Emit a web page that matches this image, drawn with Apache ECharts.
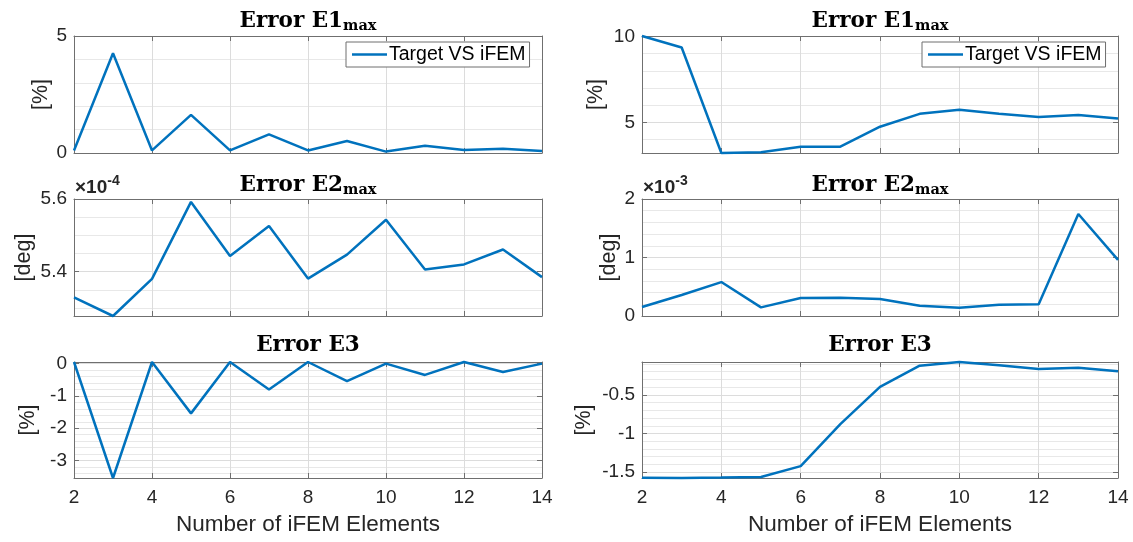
<!DOCTYPE html>
<html><head><meta charset="utf-8">
<script src="https://cdn.jsdelivr.net/npm/echarts@6/dist/echarts.min.js"></script>
<style>html,body{margin:0;padding:0;background:#fff}#c{width:1133px;height:542px}</style>
</head><body><div id="c"></div>
<script>
// ---- data ----
const elements = [2, 3, 4, 5, 6, 7, 8, 9, 10, 11, 12, 13, 14];
const e1Left  = [0.11, 4.26, 0.11, 1.63, 0.11, 0.80, 0.11, 0.51, 0.06, 0.31, 0.13, 0.18, 0.09];
const e1Right = [10.03, 9.36, 3.22, 3.26, 3.59, 3.59, 4.75, 5.50, 5.74, 5.50, 5.31, 5.43, 5.23];
const e2Left  = [5.329, 5.278, 5.380, 5.592, 5.443, 5.526, 5.381, 5.447, 5.543, 5.406, 5.420, 5.461, 5.385]; // x 1e-4
const e2Right = [0.153, 0.358, 0.580, 0.148, 0.307, 0.312, 0.290, 0.176, 0.142, 0.193, 0.199, 1.744, 0.960]; // x 1e-3
const e3Left  = [0.05, -3.54, 0.05, -1.54, 0.05, -0.80, 0.05, -0.54, 0.00, -0.35, 0.05, -0.26, 0.00];
const e3Right = [-1.572, -1.575, -1.570, -1.563, -1.422, -0.879, -0.396, -0.122, -0.075, -0.118, -0.165, -0.148, -0.195];

const seriesName = 'Target VS iFEM';
const titleMain = ['Error E1', 'Error E1', 'Error E2', 'Error E2', 'Error E3', 'Error E3'];
const titleSub  = ['max', 'max', 'max', 'max', '', ''];
const yNames    = ['[%]', '[%]', '[deg]', '[deg]', '[%]', '[%]'];
const xName     = 'Number of iFEM Elements';
const exponents = [null, null, '-4', '-3', null, null];
const xTicks    = { min: 2, max: 14, step: 2 };
const yMin      = [0, 3.22, 5.278, 0, -3.54, -1.575];
const yMax      = [5, 10.03, 5.6, 2, 0.05, -0.075];
const yMajor    = [5, 5, 0.2, 1, 1, 0.5];
const yMinorDiv = [5, 5, 4, 5, 5, 5];
const ySplitNum = [1, 1, 2, 2, 4, 3];

const panelData = [e1Left, e1Right, e2Left, e2Right, e3Left, e3Right];

// ---- layout / style ----
const layout = [
  { left: 74,  top: 36,  width: 468, height: 117 },
  { left: 642, top: 36,  width: 476, height: 117 },
  { left: 74,  top: 199, width: 468, height: 117 },
  { left: 642, top: 199, width: 476, height: 117 },
  { left: 74,  top: 362, width: 468, height: 116 },
  { left: 642, top: 362, width: 476, height: 116 }
];
const yNameGap = [22, 35, 39, 21, 35, 47];
const titleOffset = [27, 27, 26, 26, 29, 29];
const AX = '#6f6f6f', GRID = '#dcdcdc', MINOR = '#e8e8e8', TXT = '#262626', LINE = '#0072BD';
const SANS = 'Liberation Sans, Arial, sans-serif';
const SERIF = 'DejaVu Serif, serif';
const TICKFS = 19;

const isMult = (v, m) => Math.abs(v / m - Math.round(v / m)) < 1e-6;
const fmt = v => String(parseFloat(v.toFixed(4)));

const grids = [], xAxes = [], yAxes = [], series = [], titles = [];
layout.forEach((g, i) => {
  grids.push({ left: g.left, top: g.top, width: g.width, height: g.height, containLabel: false });
  const bottomRow = i >= 4;
  const axisLine = { show: true, onZero: false, lineStyle: { color: AX, width: 1 } };
  const tick = { show: true, inside: true, length: 5, lineStyle: { color: AX } };
  const xBase = { type: 'value', gridIndex: i, min: xTicks.min, max: xTicks.max, interval: xTicks.step,
                  axisLine, axisTick: tick };
  xAxes.push(Object.assign({}, xBase, {
    position: 'bottom',
    axisLabel: { show: bottomRow, color: TXT, fontFamily: SANS, fontSize: TICKFS, margin: 10 },
    splitLine: { show: true, lineStyle: { color: GRID, width: 1 } },
    name: bottomRow ? xName : '', nameLocation: 'middle', nameGap: 35,
    nameTextStyle: { color: TXT, fontFamily: SANS, fontSize: 22.5 }
  }));
  xAxes.push(Object.assign({}, xBase, { position: 'top', axisLabel: { show: false }, splitLine: { show: false } }));

  const yBase = { type: 'value', gridIndex: i, min: yMin[i], max: yMax[i], splitNumber: ySplitNum[i],
                  axisLine, axisTick: tick, minorTick: { show: false, splitNumber: yMinorDiv[i] } };
  yAxes.push(Object.assign({}, yBase, {
    position: 'left',
    axisLabel: { color: TXT, fontFamily: SANS, fontSize: TICKFS, margin: 7,
                 formatter: v => isMult(v, yMajor[i]) ? fmt(v) : '' },
    splitLine: { show: true, lineStyle: { color: GRID, width: 1 } },
    minorSplitLine: { show: true, lineStyle: { color: MINOR, width: 1 } },
    name: yNames[i], nameLocation: 'middle', nameGap: yNameGap[i], nameRotate: 90,
    nameTextStyle: { color: TXT, fontFamily: SANS, fontSize: 21.5 }
  }));
  yAxes.push(Object.assign({}, yBase, { position: 'right', axisLabel: { show: false }, splitLine: { show: false } }));

  series.push({
    name: seriesName, type: 'line', xAxisIndex: 2 * i, yAxisIndex: 2 * i,
    data: elements.map((x, k) => [x, panelData[i][k]]),
    symbol: 'none', clip: false, color: LINE,
    lineStyle: { color: LINE, width: 2.5 }, itemStyle: { color: LINE }, z: 5
  });

  titles.push({
    text: '{a|' + titleMain[i] + '}' + (titleSub[i] ? '{b|' + titleSub[i] + '}' : ''),
    left: g.left + g.width / 2, top: g.top - titleOffset[i], textAlign: 'center', padding: 0,
    textStyle: { rich: {
      a: { fontFamily: SERIF, fontWeight: 'bold', fontSize: 21.5, color: '#000', lineHeight: 25 },
      b: { fontFamily: SERIF, fontSize: 14.5, color: '#000', lineHeight: 14, verticalAlign: 'bottom' }
    } }
  });
  if (exponents[i]) {
    titles.push({
      text: '{a|\u00d710}{b|' + exponents[i] + '}',
      left: g.left + 1, top: g.top - 25, padding: 0,
      textStyle: { rich: {
        a: { fontFamily: SANS, fontSize: 19, color: TXT, lineHeight: 28 },
        b: { fontFamily: SANS, fontSize: 14, color: TXT, lineHeight: 14, verticalAlign: 'top' }
      } }
    });
  }
});

const legendStyle = {
  data: [seriesName], top: 42, selectedMode: false, icon: 'rect', itemWidth: 35, itemHeight: 2.5,
  backgroundColor: '#fff', borderColor: '#6e6e6e', borderWidth: 1, borderRadius: 0,
  padding: [2, 4, 2, 6],
  textStyle: { color: '#000', fontFamily: SANS, fontSize: 19.5, lineHeight: 21, padding: [0, 0, 0, -3] }
};

const chart = echarts.init(document.getElementById('c'), null, { renderer: 'canvas' });
chart.setOption({
  animation: false,
  backgroundColor: '#fff',
  title: titles,
  legend: [Object.assign({ left: 346 }, legendStyle), Object.assign({ left: 922 }, legendStyle)],
  grid: grids,
  xAxis: xAxes,
  yAxis: yAxes,
  series: series
});
</script>
</body></html>
